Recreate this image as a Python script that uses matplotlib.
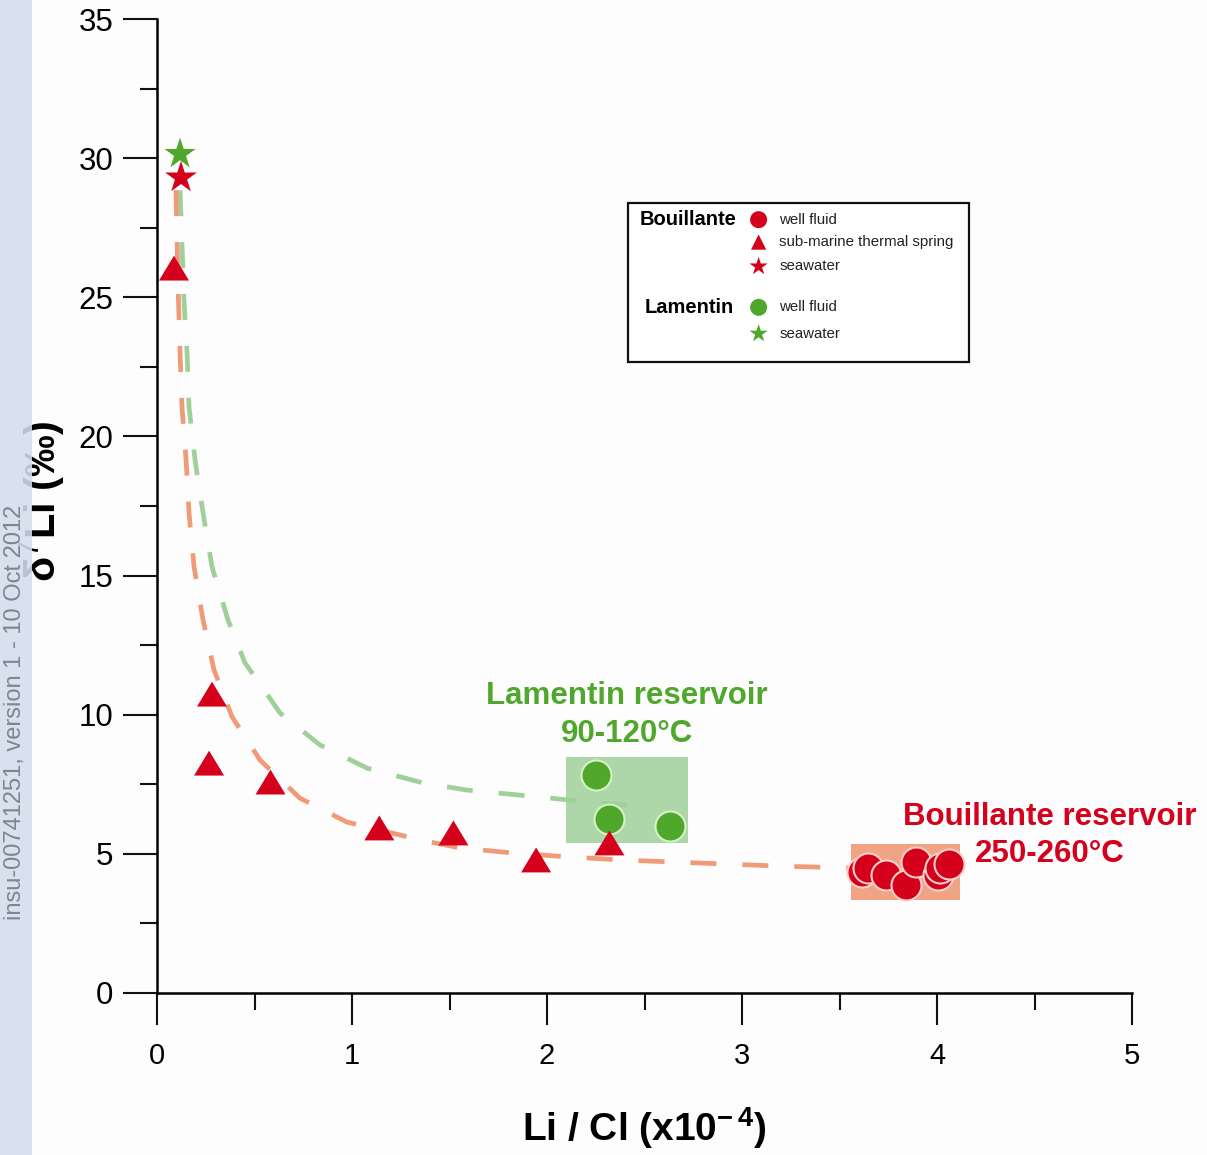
import matplotlib
matplotlib.use("Agg")
import matplotlib.pyplot as plt
from matplotlib.patches import Rectangle

plt.rcParams['font.family'] = ['Liberation Sans', 'DejaVu Sans']
plt.rcParams['mathtext.fontset'] = 'custom'
plt.rcParams['mathtext.rm'] = 'Liberation Sans'
plt.rcParams['mathtext.bf'] = 'Liberation Sans:bold'

# --- data (Li/Cl x1e-4, d7Li permil) ---
bou_well_x = [3.615, 3.646, 3.74, 3.84, 3.89, 4.005, 4.015, 4.06]
bou_well_y = [4.35, 4.49, 4.24, 3.88, 4.71, 4.24, 4.49, 4.64]

bou_spring_x = [0.087, 0.282, 0.267, 0.582, 1.14, 1.52, 1.944, 2.32]
bou_spring_y = [26.05, 10.74, 8.26, 7.58, 5.93, 5.75, 4.78, 5.39]

bou_sea_x, bou_sea_y = [0.123], [29.3]

lam_well_x = [2.25, 2.32, 2.63]
lam_well_y = [7.83, 6.25, 6.0]

lam_sea_x, lam_sea_y = [0.118], [30.15]

# mixing curves
bou_mix_x = [0.097, 0.108, 0.118, 0.128, 0.149, 0.164, 0.190, 0.236, 0.292, 0.385,
             0.528, 0.733, 0.974, 1.35, 1.554, 1.826, 2.108, 2.379, 2.78, 3.19, 3.55]
bou_mix_y = [28.85, 25.37, 23.0, 21.06, 19.15, 17.25, 15.31, 13.40, 11.61, 9.92,
             8.37, 7.0, 6.14, 5.50, 5.21, 5.03, 4.89, 4.78, 4.67, 4.56, 4.49]

lam_mix_x = [0.118, 0.138, 0.154, 0.164, 0.195, 0.236, 0.282, 0.364, 0.451, 0.513,
             0.631, 0.836, 1.077, 1.364, 1.59, 1.964, 2.256, 2.41]
lam_mix_y = [28.85, 24.9, 23.0, 21.06, 19.15, 17.25, 15.31, 13.40, 11.86, 11.25,
             10.06, 8.91, 8.08, 7.55, 7.29, 7.04, 6.83, 6.76]

# reservoir boxes: (x0, y0, width, height)
lam_box = (2.097, 5.39, 0.626, 3.09)
bou_box = (3.56, 3.34, 0.56, 2.01)

RED = '#d5001c'
GREEN = '#4fa82c'
SALMON = '#f09a78'
LGREEN = '#9fd09a'

tri = [(-1, -0.83), (1, -0.83), (0, 0.83)]

fig = plt.figure(figsize=(12.07, 11.55), dpi=100, facecolor='#fdfdfd')
ax = fig.add_axes([0.1301, 0.1403, 0.8078, 0.8432])
ax.set_facecolor('#fdfdfd')
ax.set_xlim(0, 5)
ax.set_ylim(0, 35)

for s in ['top', 'right']:
    ax.spines[s].set_visible(False)
for s in ['left', 'bottom']:
    ax.spines[s].set_linewidth(1.8)

ax.set_xticks([0, 1, 2, 3, 4, 5])
ax.set_xticks([0.5, 1.5, 2.5, 3.5, 4.5], minor=True)
ax.set_yticks([0, 5, 10, 15, 20, 25, 30, 35])
ax.set_yticks([2.5, 7.5, 12.5, 17.5, 22.5, 27.5, 32.5], minor=True)
ax.tick_params(axis='both', which='major', direction='out', width=1.5, color='#111111')
ax.tick_params(axis='both', which='minor', direction='out', width=1.5, color='#111111')
ax.tick_params(axis='y', which='major', length=24.5, pad=7, labelsize=22.5)
ax.tick_params(axis='y', which='minor', length=12)
ax.tick_params(axis='x', which='major', length=23, pad=12, labelsize=21)
ax.tick_params(axis='x', which='minor', length=12)

# boxes
ax.add_patch(Rectangle(lam_box[:2], lam_box[2], lam_box[3], facecolor=LGREEN,
                       edgecolor='none', alpha=0.85, zorder=1))
ax.add_patch(Rectangle(bou_box[:2], bou_box[2], bou_box[3], facecolor=SALMON,
                       edgecolor='none', alpha=0.9, zorder=1))

# mixing curves
ax.plot(lam_mix_x, lam_mix_y, color=LGREEN, lw=3.4, ls=(0, (5.5, 5.5)), zorder=2,
        dash_capstyle='butt')
ax.plot(bou_mix_x, bou_mix_y, color=SALMON, lw=3.4, ls=(0, (5.5, 5.5)), zorder=2,
        dash_capstyle='butt')

# points
ax.scatter(lam_well_x, lam_well_y, s=467, marker='o', color=GREEN,
           edgecolors='#d6f2c4', linewidths=1.5, zorder=4)
ax.scatter(bou_spring_x, bou_spring_y, s=467, marker=tri, color=RED,
           edgecolors='none', zorder=5)
ax.scatter(bou_well_x, bou_well_y, s=467, marker='o', color=RED,
           edgecolors='#fbd0c8', linewidths=1.5, zorder=4)
ax.scatter(lam_sea_x, lam_sea_y, s=560, marker='*', color=GREEN,
           edgecolors='none', zorder=5)
ax.scatter(bou_sea_x, bou_sea_y, s=580, marker='*', color=RED,
           edgecolors='none', zorder=6)

# reservoir labels
ax.text(2.41, 10.66, 'Lamentin reservoir', color=GREEN, fontsize=22.5, fontweight='bold',
        ha='center', va='center', zorder=7)
ax.text(2.41, 9.29, '90-120°C', color=GREEN, fontsize=22.5, fontweight='bold',
        ha='center', va='center', zorder=7)
ax.text(4.58, 6.31, 'Bouillante reservoir', color=RED, fontsize=22.5, fontweight='bold',
        ha='center', va='center', zorder=7)
ax.text(4.58, 4.98, '250-260°C', color=RED, fontsize=22.5, fontweight='bold',
        ha='center', va='center', zorder=7)

# legend drawn by hand
ax.add_patch(Rectangle((0.483, 0.648), 0.350, 0.163, transform=ax.transAxes,
                       facecolor='white', edgecolor='#111111', lw=1.6, zorder=8,
                       clip_on=False))
ax.text(0.594, 0.794, 'Bouillante', transform=ax.transAxes, fontsize=14.5,
        fontweight='bold', ha='right', va='center', zorder=9)
ax.text(0.592, 0.704, 'Lamentin', transform=ax.transAxes, fontsize=14.5,
        fontweight='bold', ha='right', va='center', zorder=9)
leg_rows = [(0.794, 'o', RED, 'well fluid', 150),
            (0.771, '^', RED, 'sub-marine thermal spring', 120),
            (0.746, '*', RED, 'seawater', 190),
            (0.704, 'o', GREEN, 'well fluid', 150),
            (0.677, '*', GREEN, 'seawater', 190)]
for yy, mk, col, lab, sz in leg_rows:
    ax.scatter([0.617], [yy], transform=ax.transAxes, marker=mk, s=sz, color=col,
               edgecolors='none', zorder=9, clip_on=False)
    ax.text(0.638, yy, lab, transform=ax.transAxes, fontsize=10.8, ha='left',
            va='center', color='#222222', zorder=9)

# axis labels
ax.set_xlabel(r'Li / Cl (x10$^{\mathbf{-\,4}}$)', fontsize=28, fontweight='bold',
              labelpad=26)
fig.text(42 / 1207, 1 - 502 / 1155, r'δ$^{7}$Li (‰)', rotation=90, fontsize=30,
         fontweight='bold', ha='center', va='center')

# archive strip on the left edge
fig.patches.append(Rectangle((0, 0), 32 / 1207, 1, transform=fig.transFigure,
                             facecolor='#d5deed', alpha=0.88, edgecolor='none',
                             zorder=10))
fig.text(15 / 1207, 1 - 712 / 1155, 'insu-00741251, version 1 - 10 Oct 2012',
         rotation=90, fontsize=17, color='#7d8591', ha='center', va='center',
         zorder=11)

fig.savefig('out.png', dpi=100, facecolor=fig.get_facecolor())
